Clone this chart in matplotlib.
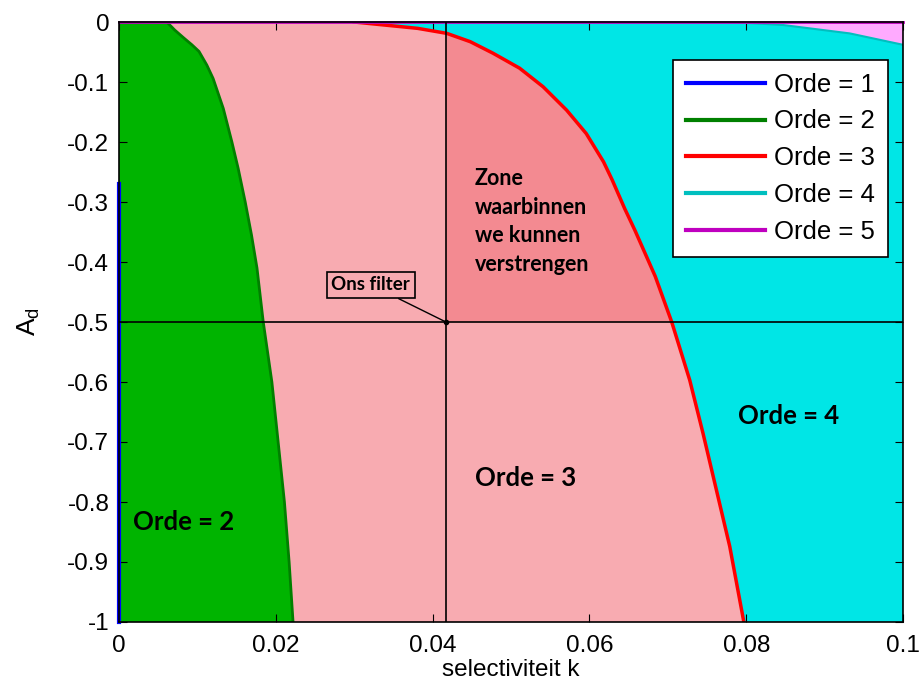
import numpy as np
import matplotlib
matplotlib.use("Agg")
import matplotlib.pyplot as plt

# Boundary curves (A_d vs selectivity k)
ad_o2 = [0.0, -0.0133, -0.027, -0.038, -0.049, -0.0717, -0.094, -0.144, -0.20, -0.244, -0.30,
         -0.355, -0.41, -0.50, -0.60, -0.70, -0.80, -0.90, -1.00]
k_o2 = [0.0061, 0.0071, 0.0083, 0.0093, 0.0102, 0.0112, 0.0120, 0.0133, 0.0144, 0.0152, 0.0161,
        0.0169, 0.0176, 0.0184, 0.0195, 0.0203, 0.0211, 0.0217, 0.0222]

ad_o3 = [0.0, -0.0106, -0.0189, -0.0328, -0.052, -0.077, -0.108, -0.147, -0.186, -0.233,
         -0.263, -0.311, -0.347, -0.424, -0.50, -0.597, -0.686, -0.78, -0.874, -1.00]
k_o3 = [0.030, 0.0381, 0.0418, 0.0448, 0.0477, 0.0511, 0.0541, 0.0571, 0.0596, 0.0618,
        0.0629, 0.0645, 0.0658, 0.0684, 0.0705, 0.0728, 0.0745, 0.0762, 0.0779, 0.0797]

ad_o4 = [0.0, -0.005, -0.019, -0.038]
k_o4 = [0.078, 0.0847, 0.0932, 0.100]

ad_o1 = [-0.27, -1.0]
k_o1 = [0.0, 0.0]

ad_o5 = [0.0, 0.0]
k_o5 = [0.0, 0.1]

filter_k = 0.0417
filter_ad = -0.5

legend_labels = ["Orde = 1", "Orde = 2", "Orde = 3", "Orde = 4", "Orde = 5"]

c_pink = "#F8ABB1"
c_zone = "#F38A91"
c_green = "#00B400"
c_cyan = "#00E6E6"
c_mag = "#FFAAFF"

fig = plt.figure(figsize=(9.23, 6.91), dpi=100)
ax = fig.add_axes([119/923, 69/691, 784/923, 600/691])
ax.set_facecolor(c_pink)

# order 4 region (right of red curve)
ax.fill(list(k_o3) + [0.1, 0.1], list(ad_o3) + [-1.0, 0.0], color=c_cyan, lw=0, zorder=1)
# order 5 region (above cyan curve)
ax.fill(list(k_o4) + [0.1], list(ad_o4) + [0.0], color=c_mag, lw=0, zorder=1.1)
# order 2 region
ax.fill(list(k_o2) + [0.0, 0.0], list(ad_o2) + [-1.0, 0.0], color=c_green, lw=0, zorder=1)
# zone
k3 = np.array(k_o3); a3 = np.array(ad_o3)
m = (k3 >= filter_k) & (a3 >= filter_ad)
ax.fill([filter_k, filter_k] + list(k3[m]), [filter_ad, -0.0189] + list(a3[m]),
        color=c_zone, lw=0, zorder=1.2)

# boundary lines
l1, = ax.plot(k_o1, ad_o1, color="#0000FF", lw=3, zorder=3, clip_on=False)
l2, = ax.plot(k_o2, ad_o2, color="#008000", lw=2, zorder=3)
l3, = ax.plot(k_o3, ad_o3, color="#FF0000", lw=2.5, zorder=3)
l4, = ax.plot(k_o4, ad_o4, color="#00BFBF", lw=1.5, zorder=3)
l5, = ax.plot(k_o5, ad_o5, color="#BF00BF", lw=2, zorder=3, clip_on=False)

# filter cross-hair
ax.axvline(filter_k, color="black", lw=1.2, zorder=4)
ax.axhline(filter_ad, color="black", lw=1.2, zorder=4)
ax.plot([filter_k], [filter_ad], "o", color="black", ms=3, zorder=5)

ax.annotate("Ons filter", xy=(filter_k, filter_ad), xytext=(0.0321, -0.438),
            fontsize=13.5, fontweight="bold", family="Lato", ha="center", va="center",
            bbox=dict(boxstyle="square,pad=0.25", fc=c_pink, ec="black", lw=1.2),
            arrowprops=dict(arrowstyle="-", color="black", lw=1, shrinkA=0, shrinkB=0),
            zorder=6)

ax.text(0.0454, -0.3325, "Zone\nwaarbinnen\nwe kunnen\nverstrengen", fontsize=15.5,
        fontweight="bold", family="Lato", ha="left", va="center", linespacing=1.45, zorder=6)
ax.text(0.0454, -0.76, "Orde = 3", fontsize=18.5, fontweight="bold", family="Lato",
        ha="left", va="center", zorder=6)
ax.text(0.0790, -0.657, "Orde = 4", fontsize=18.5, fontweight="bold", family="Lato",
        ha="left", va="center", zorder=6)
ax.text(0.0018, -0.833, "Orde = 2", fontsize=18.5, fontweight="bold", family="Lato",
        ha="left", va="center", zorder=6)

ax.set_xlim(0, 0.1)
ax.set_ylim(-1, 0)
ax.set_xticks([0, 0.02, 0.04, 0.06, 0.08, 0.1])
ax.set_xticklabels(["0", "0.02", "0.04", "0.06", "0.08", "0.1"])
yt = [0, -0.1, -0.2, -0.3, -0.4, -0.5, -0.6, -0.7, -0.8, -0.9, -1]
ax.set_yticks(yt)
ax.set_yticklabels(["0", "-0.1", "-0.2", "-0.3", "-0.4", "-0.5", "-0.6", "-0.7", "-0.8", "-0.9", "-1"])
ax.tick_params(direction="in", length=6, labelsize=17.5, top=True, right=True)
ax.tick_params(axis="y", pad=7)
ax.tick_params(axis="x", pad=9)
for lab in ax.get_xticklabels() + ax.get_yticklabels():
    lab.set_family("Liberation Sans")
for s in ax.spines.values():
    s.set_linewidth(1.2)
    s.set_zorder(7)

ax.set_xlabel("selectiviteit k", fontsize=17.5, family="Liberation Sans", labelpad=2)
ax.set_ylabel("A$_\\mathregular{d}$", fontsize=19, family="Liberation Sans", labelpad=18)

leg = ax.legend([l1, l2, l3, l4, l5], legend_labels, loc="upper right",
                bbox_to_anchor=(0.981, 0.937), fancybox=False, framealpha=1,
                edgecolor="black", prop={"family": "Liberation Sans", "size": 18.5},
                handlelength=3.1, labelspacing=0.5, borderpad=0.5, handletextpad=0.35,
                borderaxespad=0)
leg.get_frame().set_linewidth(1.2)
leg.set_zorder(10)
for h in leg.get_lines():
    h.set_linewidth(3)

fig.savefig("out.png", dpi=100)
